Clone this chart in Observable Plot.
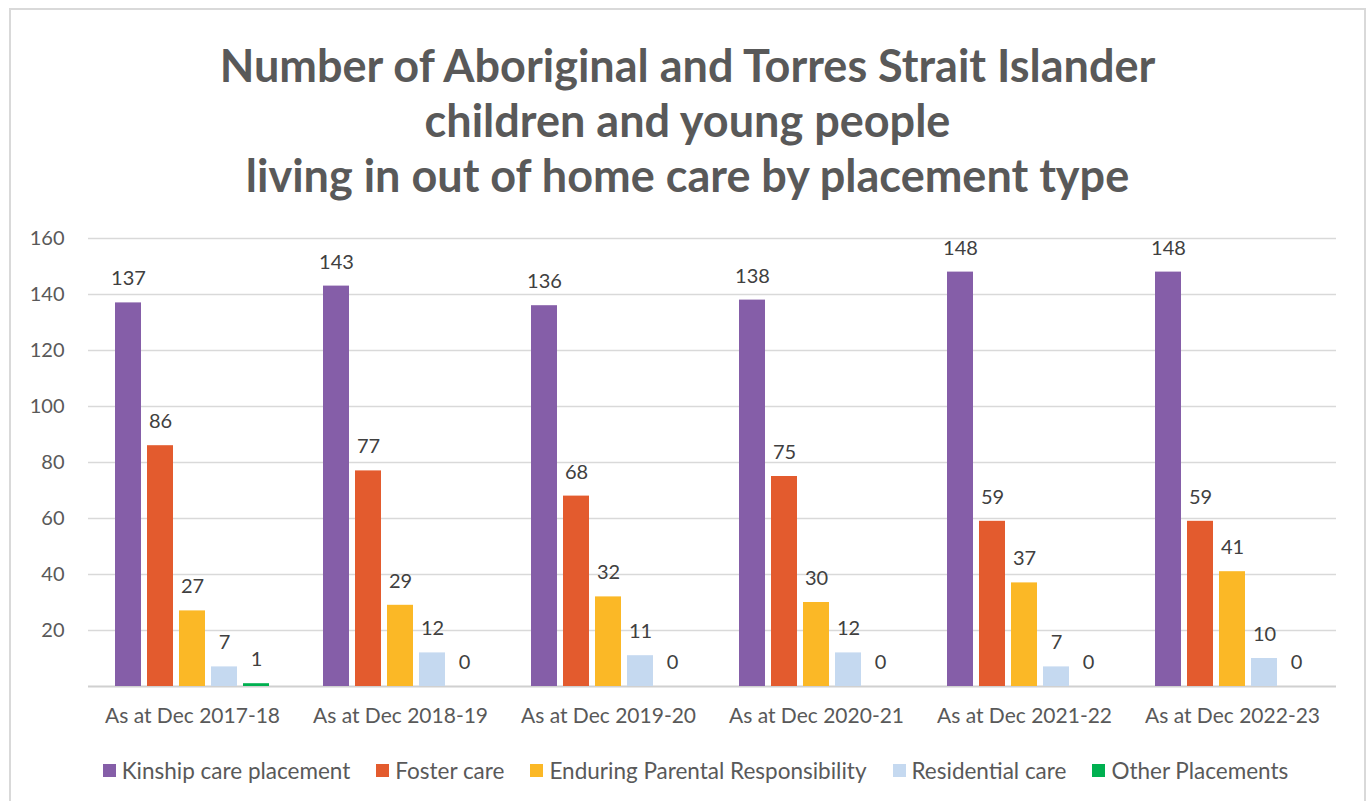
<!DOCTYPE html>
<html>
<head>
<meta charset="utf-8">
<script src="https://cdn.jsdelivr.net/npm/d3@7"></script>
<script src="https://cdn.jsdelivr.net/npm/@observablehq/plot@0.6"></script>
<style>
  html, body { margin: 0; padding: 0; background: #fff; }
  body { font-family: Lato, "Open Sans", sans-serif; color: #595959; }
  #frame { position: absolute; left: 9px; top: 8px; width: 1353px; height: 800px; border: 2px solid #d9d9d9; border-bottom: none; }
  #title { text-align: center; font-weight: bold; font-size: 45px; line-height: 55px; padding-top: 28px; color: #595959; }
  #chart { position: absolute; left: 0; top: 194px; }
  #legend { position: absolute; left: 0; top: 747px; width: 100%; display: flex; justify-content: center; gap: 26px; font-size: 22.5px; color: #595959; padding-left: 8px; }
  .item { display: flex; align-items: center; gap: 6px; }
  .sw { width: 13px; height: 13px; display: inline-block; }
</style>
</head>
<body>
<div id="frame">
  <div id="title">Number of Aboriginal and Torres Strait Islander<br>children and young people<br>living in out of home care by placement type</div>
  <div id="chart"></div>
  <div id="legend"></div>
</div>
<script>
const years = ["As at Dec 2017-18", "As at Dec 2018-19", "As at Dec 2019-20", "As at Dec 2020-21", "As at Dec 2021-22", "As at Dec 2022-23"];
const types = ["Kinship care placement", "Foster care", "Enduring Parental Responsibility", "Residential care", "Other Placements"];
const colors = ["#855EA8", "#E35B2E", "#FBB826", "#C5D9F0", "#00B050"];
const kinship = [137, 143, 136, 138, 148, 148];
const foster = [86, 77, 68, 75, 59, 59];
const enduring = [27, 29, 32, 30, 37, 41];
const residential = [7, 12, 11, 12, 7, 10];
const other = [1, 0, 0, 0, 0, 0];
const yTicks = [20, 40, 60, 80, 100, 120, 140, 160];

const series = [kinship, foster, enduring, residential, other];
const data = [];
years.forEach((yr, i) => {
  types.forEach((t, j) => data.push({year: yr, type: t, value: series[j][i]}));
});

const chart = Plot.plot({
  width: 1353,
  height: 542,
  marginLeft: 75,
  marginRight: 26,
  marginTop: 34,
  marginBottom: 60,
  style: {fontFamily: "Lato, 'Open Sans', sans-serif", fontSize: "20px", color: "#595959", background: "transparent"},
  fx: {domain: years, padding: 0, label: null},
  x: {domain: types, paddingInner: 0.19, paddingOuter: 0.845, axis: null},
  y: {domain: [0, 160], ticks: yTicks, label: null},
  color: {domain: types, range: colors},
  marks: [
    Plot.gridY(yTicks, {stroke: "#d9d9d9", strokeOpacity: 1, strokeWidth: 1.5}),
    Plot.ruleY([0], {stroke: "#d0d0d0", strokeWidth: 2}),
    Plot.barY(data, {fx: "year", x: "type", y: "value", fill: "type"}),
    Plot.text(data, {fx: "year", x: "type", y: "value", text: d => String(d.value), dy: -24, fill: "#404040", fontSize: 20}),
    Plot.axisY(yTicks, {tickSize: 0, tickPadding: 24, fontSize: 20, fill: "#595959", label: null}),
    Plot.axisFx({anchor: "bottom", tickSize: 0, tickPadding: 22, fontSize: 21, fill: "#595959", label: null})
  ]
});
document.getElementById("chart").appendChild(chart);

const legend = document.getElementById("legend");
types.forEach((t, i) => {
  const it = document.createElement("div");
  it.className = "item";
  const sw = document.createElement("span");
  sw.className = "sw";
  sw.style.background = colors[i];
  it.appendChild(sw);
  const tx = document.createElement("span");
  tx.textContent = t;
  it.appendChild(tx);
  legend.appendChild(it);
});
</script>
</body>
</html>
